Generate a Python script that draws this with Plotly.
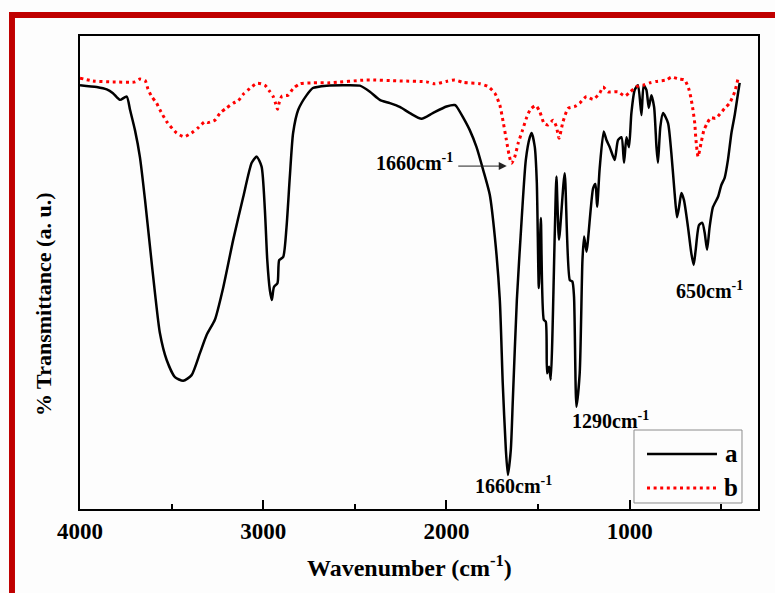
import plotly.graph_objects as go

# FTIR spectra: wavenumber (cm^-1) and relative transmittance (a. u.)
wn_a = [4000, 3909, 3854, 3820, 3782, 3745, 3727, 3700, 3673, 3645, 3618, 3591, 3564,
        3527, 3482, 3437, 3391, 3345, 3309, 3264, 3218, 3164, 3109, 3063, 3036, 3009,
        2991, 2978, 2964, 2953, 2942, 2922, 2913, 2891, 2873, 2855, 2837, 2809, 2763,
        2729, 2654, 2565, 2473, 2418, 2364, 2309, 2255, 2200, 2136, 2075, 2000, 1955,
        1945, 1911, 1873, 1836, 1800, 1764, 1736, 1709, 1693, 1676, 1665, 1649, 1638,
        1616, 1589, 1567, 1545, 1535, 1518, 1507, 1496, 1485, 1469, 1458, 1451, 1440,
        1431, 1409, 1400, 1386, 1355, 1327, 1313, 1304, 1291, 1273, 1258, 1249, 1236,
        1200, 1187, 1178, 1164, 1142, 1127, 1109, 1082, 1064, 1045, 1031, 1018, 1004,
        991, 973, 955, 936, 924, 909, 896, 882, 867, 854, 846, 833, 818, 791, 773, 755,
        742, 731, 718, 704, 682, 664, 651, 640, 622, 604, 591, 578, 564, 546, 518, 500,
        482, 464, 445, 427, 409, 400]
t_a = [89.6, 89.2, 88.7, 87.9, 86.5, 87.2, 84.4, 80.1, 74.4, 65.3, 55.4, 45.7, 37.2,
       31.5, 27.9, 27.1, 28.3, 33.0, 36.8, 40.0, 46.9, 56.9, 66.0, 73.2, 74.5, 72.4,
       63.2, 52.6, 46.3, 44.2, 46.9, 47.8, 52.6, 53.3, 59.6, 70.2, 79.5, 84.4, 87.5,
       89.0, 89.5, 89.6, 89.5, 88.2, 86.5, 85.8, 85.0, 83.7, 82.5, 83.7, 85.1, 85.4,
       85.1, 82.9, 80.1, 76.5, 71.7, 66.5, 57.5, 44.2, 26.6, 12.5, 7.2, 12.5, 23.0,
       44.2, 61.7, 73.8, 78.6, 79.5, 76.5, 68.9, 46.7, 61.5, 40.0, 39.6, 28.7, 30.1,
       27.3, 58.3, 70.3, 56.9, 71.0, 48.4, 48.1, 44.9, 21.6, 28.7, 52.6, 57.6, 54.4,
       67.8, 68.7, 63.9, 72.0, 79.8, 78.0, 76.5, 73.8, 78.0, 78.6, 73.2, 78.6, 76.5,
       83.7, 88.6, 89.6, 83.3, 89.6, 88.6, 84.8, 87.5, 85.0, 76.5, 73.2, 80.8, 83.7,
       81.6, 75.3, 66.8, 61.7, 63.8, 66.8, 65.3, 59.6, 54.1, 51.6, 54.8, 60.0, 60.5,
       58.4, 54.8, 59.6, 63.8, 66.0, 68.5, 70.0, 73.8, 79.5, 83.3, 87.9, 90.1]

wn_b = [4000, 3929, 3820, 3700, 3673, 3645, 3629, 3609, 3582, 3564, 3527, 3473, 3431,
        3391, 3355, 3318, 3300, 3264, 3236, 3200, 3164, 3137, 3109, 3073, 3033, 2991,
        2967, 2946, 2933, 2922, 2913, 2898, 2864, 2837, 2800, 2727, 2636, 2436, 2255,
        2109, 2064, 2000, 1955, 1909, 1818, 1773, 1736, 1709, 1691, 1673, 1658, 1645,
        1627, 1609, 1585, 1564, 1542, 1513, 1491, 1467, 1446, 1418, 1400, 1386, 1364,
        1336, 1300, 1273, 1236, 1200, 1164, 1146, 1118, 1064, 1027, 1000, 964, 927,
        891, 855, 800, 773, 731, 700, 676, 664, 655, 645, 640, 633, 627, 609, 595, 578,
        558, 531, 482, 455, 427, 409]
t_b = [91.1, 90.5, 90.3, 90.3, 90.9, 90.6, 88.8, 87.2, 85.8, 84.4, 81.9, 79.5, 78.7,
       79.5, 80.6, 81.9, 81.7, 82.2, 83.7, 84.8, 85.8, 86.3, 87.7, 88.9, 90.0, 89.6,
       88.4, 87.2, 85.8, 84.5, 85.9, 87.3, 87.5, 88.9, 89.9, 90.1, 90.1, 90.7, 90.5,
       90.3, 89.9, 90.4, 90.7, 90.2, 89.9, 89.3, 87.9, 85.4, 81.9, 78.0, 74.8, 73.1,
       74.5, 77.3, 80.1, 82.6, 84.5, 85.3, 84.0, 81.5, 81.2, 82.2, 80.8, 78.4, 81.9,
       84.7, 85.1, 85.8, 87.2, 86.6, 87.9, 89.2, 88.2, 88.2, 87.3, 88.1, 89.3, 89.6,
       90.1, 90.4, 90.7, 91.3, 90.9, 90.7, 88.6, 86.5, 84.4, 81.5, 78.7, 75.9, 74.5,
       77.7, 80.1, 81.5, 82.7, 82.6, 84.7, 85.8, 88.2, 91.0]

series_names = ["a", "b"]
x_ticks = [4000, 3000, 2000, 1000]

FONT = "Liberation Serif"
BG = "#fdfdfd"
DARK_RED = "#c00000"

fig = go.Figure()
fig.add_trace(go.Scatter(x=wn_a, y=t_a, mode="lines", name=series_names[0],
                         line=dict(color="black", width=2.5, shape="spline", smoothing=0.6),
                         showlegend=False))
fig.add_trace(go.Scatter(x=wn_b, y=t_b, mode="lines", name=series_names[1],
                         line=dict(color="#ff0000", width=3, dash="3px,3.6px",
                                   shape="spline", smoothing=0.6),
                         showlegend=False))

fig.update_layout(
    width=775, height=593, autosize=False,
    margin=dict(l=80, r=17, t=36, b=84),
    paper_bgcolor=BG, plot_bgcolor=BG,
    font=dict(family=FONT, color="black", size=22, weight="bold"),
    xaxis=dict(range=[4000, 300], tickvals=x_ticks, ticks="inside", ticklen=9,
               tickwidth=2, tickcolor="black", showgrid=False, zeroline=False,
               showline=True, linecolor="black", linewidth=2, mirror=True,
               tickfont=dict(family=FONT, size=23, weight="bold"),
               minor=dict(dtick=500, tick0=0, ticks="inside", ticklen=5,
                          tickwidth=2, tickcolor="black", showgrid=False)),
    yaxis=dict(range=[0, 100], showticklabels=False, ticks="", showgrid=False,
               zeroline=False, showline=True, linecolor="black", linewidth=2,
               mirror=True),
)

# dark red frame on the top and left edges of the figure
fig.add_shape(type="rect", xref="paper", yref="paper", x0=-0.1047, x1=1.03,
              y0=1.0381, y1=1.0507, fillcolor=DARK_RED, line=dict(width=0), layer="above")
fig.add_shape(type="rect", xref="paper", yref="paper", x0=-0.1047, x1=-0.0959,
              y0=-0.2, y1=1.0507, fillcolor=DARK_RED, line=dict(width=0), layer="above")

# axis titles
fig.add_annotation(text="Wavenumber (cm<sup>-1</sup>)", xref="paper", yref="paper",
                   x=0.4867, y=-0.1205, xanchor="center", yanchor="middle",
                   showarrow=False, font=dict(family=FONT, size=24, weight="bold"))
fig.add_annotation(text="% Transmittance (a. u.)", xref="paper", yref="paper",
                   x=-0.0546, y=0.4334, xanchor="center", yanchor="middle",
                   textangle=-90, showarrow=False,
                   font=dict(family=FONT, size=22, weight="bold"))

# band labels
lab_font = dict(family=FONT, size=20, weight="bold")
for txt, xv, yv in [("1660cm<sup>-1</sup>", 2173, 73.4),
                    ("1660cm<sup>-1</sup>", 1633, 5.1),
                    ("1290cm<sup>-1</sup>", 1104, 18.8),
                    ("650cm<sup>-1</sup>", 564, 46.3)]:
    fig.add_annotation(text=txt, x=xv, y=yv, xanchor="center", yanchor="middle",
                       showarrow=False, font=lab_font)
fig.add_annotation(text="", x=1671, y=72.5, ax=-50, ay=0, showarrow=True,
                   arrowhead=2, arrowsize=1.6, arrowwidth=1, arrowcolor="#222222")

# legend box
fig.add_shape(type="rect", xref="paper", yref="paper", x0=0.8171, x1=0.9764,
              y0=0.0127, y1=0.1670, line=dict(color="#8c8c8c", width=1),
              fillcolor="rgba(0,0,0,0)")
fig.add_shape(type="line", xref="paper", yref="paper", x0=0.8363, x1=0.9395,
              y0=0.1163, y1=0.1163, line=dict(color="black", width=2.5))
fig.add_shape(type="line", xref="paper", yref="paper", x0=0.8363, x1=0.9395,
              y0=0.0444, y1=0.0444, line=dict(color="#ff0000", width=3, dash="3px,3.6px"))
leg_font = dict(family=FONT, size=25, weight="bold")
for name, yv in zip(series_names, [0.1163, 0.0444]):
    fig.add_annotation(text=name, xref="paper", yref="paper", x=0.9602, y=yv,
                       xanchor="center", yanchor="middle", showarrow=False, font=leg_font)

fig.write_html("out.html")
